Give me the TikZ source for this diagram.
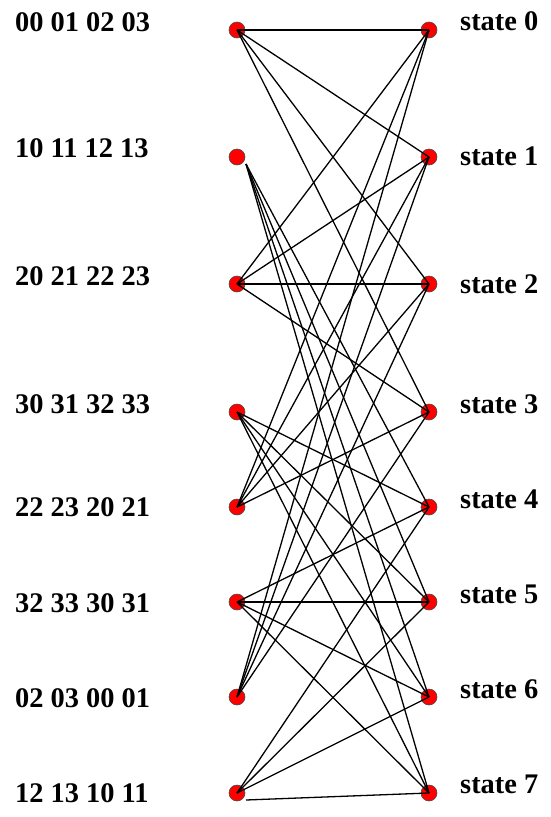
\documentclass[tikz,border=0pt]{standalone}
\usepackage{fontspec}
\setmainfont{Liberation Serif}
\begin{document}
\begin{tikzpicture}[x=1pt,y=-1pt,
  dot/.style={circle,fill=red,draw=black!70,line width=0.6pt,minimum size=16pt,inner sep=0pt},
  lab/.style={anchor=base west,inner sep=0pt,font=\fontsize{28.4}{30}\selectfont\bfseries},
  edge/.style={line width=1.3pt,draw=black}]
\useasboundingbox (0,0) rectangle (550,817);
% nodes
\foreach \n/\y in {0/30,1/157,2/284,3/412,4/507,5/602,6/697,7/793}{
  \node[dot] (L\n) at (237,\y) {};
  \node[dot] (R\n) at (429,\y) {};
}
% left labels
\node[lab] (t0) at (15,31) {00 01 02 03};
\node[lab] (t1) at (15,157) {10 11 12 13};
\node[lab] (t2) at (15,285) {20 21 22 23};
\node[lab] (t3) at (15,413) {30 31 32 33};
\node[lab] (t4) at (15,516) {22 23 20 21};
\node[lab] (t5) at (15,612) {32 33 30 31};
\node[lab] (t6) at (15,707) {02 03 00 01};
\node[lab] (t7) at (15,802) {12 13 10 11};
% right labels
\node[lab] (s0) at (460,30) {state 0};
\node[lab] (s1) at (460,165) {state 1};
\node[lab] (s2) at (460,293) {state 2};
\node[lab] (s3) at (460,413) {state 3};
\node[lab] (s4) at (460,508) {state 4};
\node[lab] (s5) at (460,603) {state 5};
\node[lab] (s6) at (460,698) {state 6};
\node[lab] (s7) at (460,793) {state 7};
% offset start points
\coordinate (L1s) at (246,164);
\coordinate (L7s) at (246,800);
% edges
\foreach \a in {0,2,4,6}{
  \foreach \b in {0,1,2,3}{
    \draw[edge] (L\a.center) -- (R\b.center);
  }
}
\foreach \b in {4,5,6,7}{
  \draw[edge] (L1s) -- (R\b.center);
  \draw[edge] (L3.center) -- (R\b.center);
  \draw[edge] (L5.center) -- (R\b.center);
}
\foreach \b in {4,5,6}{
  \draw[edge] (L7.center) -- (R\b.center);
}
\draw[edge] (L7s) -- (R7.center);
\end{tikzpicture}
\end{document}
